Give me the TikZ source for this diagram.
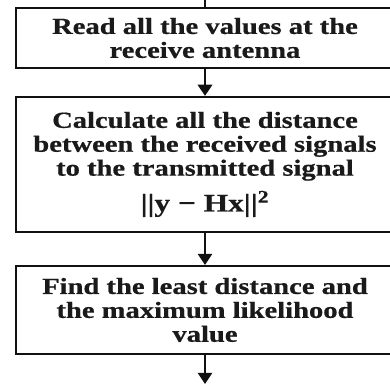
\documentclass[tikz,border=0pt]{standalone}
\usepackage{fontspec}
\usepackage{tikz}
\usetikzlibrary{arrows.meta}
\newfontfamily\flowfont{Liberation Serif}[FakeStretch=1.24, FakeBold=0.6]
\definecolor{cLine}{HTML}{111111}
\definecolor{cText}{HTML}{1A1A1A}
\tikzset{
  stepbox/.style={draw=cLine, line width=1.4pt, fill=white, align=center,
    minimum width=94.5mm, inner sep=0pt, text=cText,
    font=\flowfont\bfseries\fontsize{16.4}{17}\selectfont},
  flowarrow/.style={-{Triangle[length=2.8mm, width=3.6mm]}, line width=1.4pt, draw=cLine},
}
\begin{document}
\begin{tikzpicture}
        \useasboundingbox (0,0) rectangle (97.5mm, -96.25mm);
        % flow steps, top to bottom
        \coordinate (in) at (51.25mm, 0mm);
        \node[stepbox, minimum height=15mm] (read) at (51.25mm, -9.5mm)
              {Read all the values at the\\receive antenna};
        \node[stepbox, minimum height=33.75mm] (calc) at (51.25mm, -41.1mm)
              {Calculate all the distance\\between the received signals\\to the transmitted signal\\[2.2mm]
               {\fontsize{18}{17}\selectfont ||y − Hx||\textsuperscript{2}}};
        \node[stepbox, minimum height=22mm] (find) at (51.25mm, -77.5mm)
              {Find the least distance and\\the maximum likelihood\\value};
        \coordinate (out) at (51.25mm, -96mm);
        % connectors
        \draw[line width=1.4pt, draw=cLine] (in) -- (read.north);
        \draw[flowarrow] (read.south) -- (calc.north);
        \draw[flowarrow] (calc.south) -- (find.north);
        \draw[flowarrow] (find.south) -- (out);
      \end{tikzpicture}
\end{document}
